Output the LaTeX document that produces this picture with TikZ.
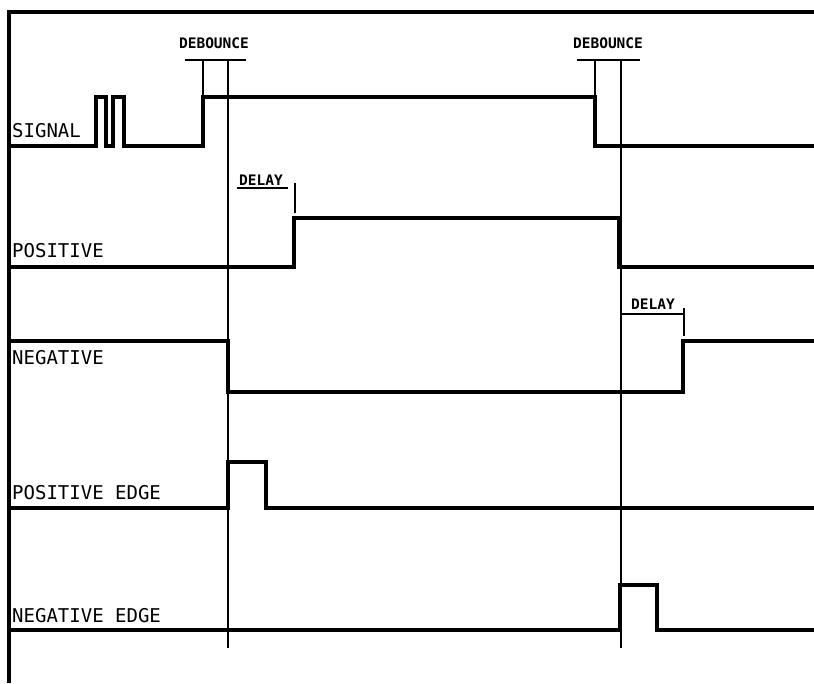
\documentclass[tikz,border=0pt]{standalone}
\usepackage{fontspec}
\setmonofont{DejaVu Sans Mono}
\begin{document}
\begin{tikzpicture}[x=1pt,y=-1pt,
  wave/.style={line width=3.7pt, line join=miter},
  thinline/.style={line width=1.3pt},
  lbl/.style={font=\ttfamily\fontsize{19}{19}\selectfont, anchor=base west, inner sep=0pt},
  small/.style={font=\ttfamily\bfseries\fontsize{14.5}{15}\selectfont, anchor=base, inner sep=0pt}]
\useasboundingbox (0,0) rectangle (814,683);
% frame
\draw[line width=4pt] (814,12) -- (9,12) -- (9,683);
% labels
\node[lbl] (sig) at (12,137) {SIGNAL};
\node[lbl] (pos) at (12,257) {POSITIVE};
\node[lbl] (neg) at (12,364) {NEGATIVE};
\node[lbl] (posedge) at (12,499) {POSITIVE EDGE};
\node[lbl] (negedge) at (12,622) {NEGATIVE EDGE};
\node[small] (deb1) at (214,48) {DEBOUNCE};
\node[small] (deb2) at (608,48) {DEBOUNCE};
\node[small] (del1) at (261,185) {DELAY};
\node[small] (del2) at (653,309) {DELAY};
% waveforms
\draw[wave] (9,146) -- (96,146) -- (96,97) -- (106,97) -- (106,146) -- (113,146) -- (113,97) -- (124,97) -- (124,146) -- (203,146) -- (203,97) -- (595,97) -- (595,146) -- (814,146);
\draw[wave] (9,267) -- (294,267) -- (294,218) -- (619,218) -- (619,267) -- (814,267);
\draw[wave] (9,341) -- (228,341) -- (228,392) -- (683,392) -- (683,341) -- (814,341);
\draw[wave] (9,508) -- (228,508) -- (228,462) -- (266,462) -- (266,508) -- (814,508);
\draw[wave] (9,630) -- (620,630) -- (620,585) -- (657,585) -- (657,630) -- (814,630);
% debounce markers
\draw[thinline] (185,60) -- (246,60);
\draw[thinline] (203,60) -- (203,97);
\draw[thinline] (228,60) -- (228,648);
\draw[thinline] (577,60) -- (640,60);
\draw[thinline] (595,60) -- (595,97);
\draw[thinline] (621,60) -- (621,648);
% delay markers
\draw[thinline] (237,188) -- (288,188);
\draw[thinline] (295,183) -- (295,213);
\draw[thinline] (621,314) -- (684,314);
\draw[thinline] (684,308) -- (684,336);
\end{tikzpicture}
\end{document}
